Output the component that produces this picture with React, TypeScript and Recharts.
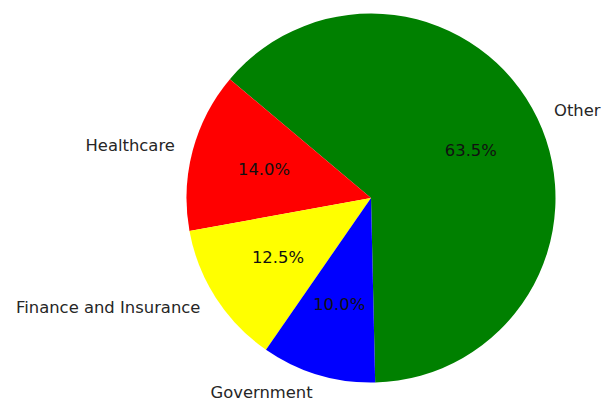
import React from "react";
import { PieChart, Pie, Cell } from "recharts";

const categories = ["Other", "Healthcare", "Finance and Insurance", "Government"];
const shares = [63.5, 14.0, 12.5, 10.0];
const colors = ["#008000", "#ff0000", "#ffff00", "#0000ff"];

const data = categories.map((name, i) => ({ name, value: shares[i] }));

const RADIAN = Math.PI / 180;
const FONT = "DejaVu Sans";

const renderLabel = (props: any) => {
  const { cx, cy, midAngle, outerRadius, percent, name } = props;
  const c = Math.cos(-midAngle * RADIAN);
  const s = Math.sin(-midAngle * RADIAN);
  const lr = outerRadius * 1.1;
  const pr = outerRadius * 0.6;
  const lx = cx + lr * c;
  const ly = cy + lr * s;
  const px = cx + pr * c;
  const py = cy + pr * s;
  return (
    <g>
      <text
        x={lx}
        y={ly}
        textAnchor={c >= 0 ? "start" : "end"}
        dominantBaseline="central"
        fill="#262626"
        fontSize={16.4}
        fontFamily={FONT}
      >
        {name}
      </text>
      <text
        x={px}
        y={py}
        textAnchor="middle"
        dominantBaseline="central"
        fill="#111"
        fontSize={16.4}
        fontFamily={FONT}
      >
        {(percent * 100).toFixed(1) + "%"}
      </text>
    </g>
  );
};

export default function App() {
  return (
    <div style={{ position: "fixed", left: 0, top: 0, width: 602, height: 400, background: "#fff" }}>
      <PieChart width={602} height={400} margin={{ top: 0, right: 0, bottom: 0, left: 0 }}>
        <Pie
          data={data}
          dataKey="value"
          nameKey="name"
          cx={371}
          cy={198}
          outerRadius={184.5}
          startAngle={-88.7}
          endAngle={271.3}
          stroke="none"
          labelLine={false}
          label={renderLabel}
          isAnimationActive={false}
        >
          {data.map((d, i) => (
            <Cell key={d.name} fill={colors[i]} />
          ))}
        </Pie>
      </PieChart>
    </div>
  );
}
